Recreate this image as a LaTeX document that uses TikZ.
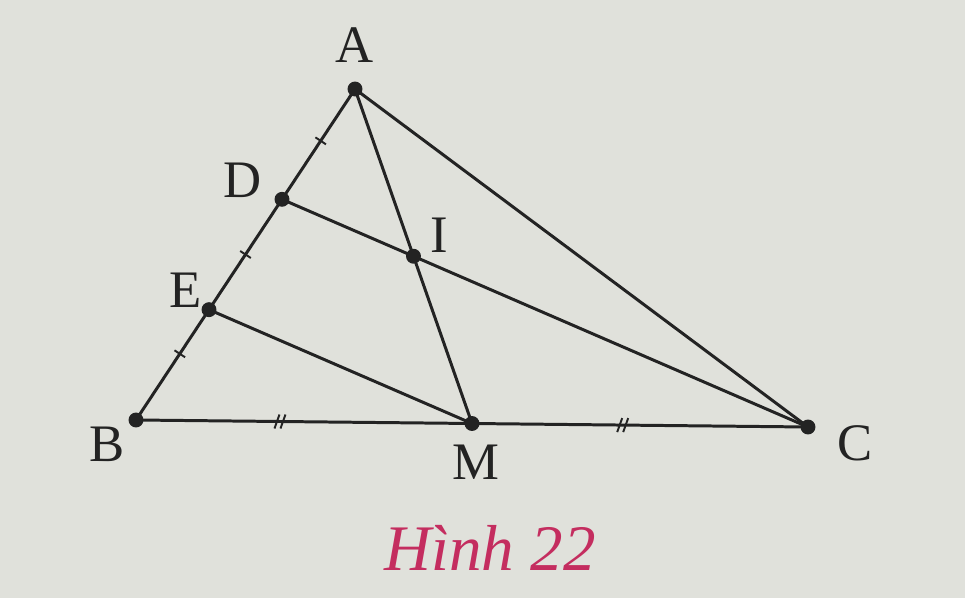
\documentclass[tikz,border=0pt]{standalone}
\usepackage{fontspec}
\setmainfont{Liberation Serif}
\usetikzlibrary{calc}
\definecolor{paper}{RGB}{224,225,219}
\definecolor{ink}{RGB}{35,35,35}
\definecolor{capred}{RGB}{196,45,95}
\begin{document}
\begin{tikzpicture}[x=0.02cm,y=-0.02cm,
  seg/.style={draw=ink,line width=1.7pt,line cap=round},
  tick/.style={draw=ink,line width=1.1pt},
  pt/.style={circle,fill=ink,inner sep=0pt,minimum size=8.5pt},
  lbl/.style={text=ink,font=\fontsize{30}{30}\selectfont,inner sep=0pt}]
\fill[paper] (0,0) rectangle (965,598);
\useasboundingbox (0,0) rectangle (965,598);
% vertices
\coordinate (A) at (355,89);
\coordinate (B) at (136,420);
\coordinate (C) at (808,427);
\coordinate (M) at ($(B)!0.5!(C)$);
\coordinate (D) at ($(A)!1/3!(B)$);
\coordinate (E) at ($(A)!2/3!(B)$);
\coordinate (I) at (intersection of A--M and D--C);
% segments
\draw[seg] (A) -- (B) -- (C) -- cycle;
\draw[seg] (A) -- (M);
\draw[seg] (D) -- (C);
\draw[seg] (E) -- (M);
% single ticks on AB
\foreach \s/\e/\f in {A/D/0.47,D/E/0.5,E/B/0.4}{
  \coordinate (t) at ($(\s)!\f!(\e)$);
  \draw[tick] ($(t)!3.6pt!90:(\e)$) -- ($(t)!3.6pt!-90:(\e)$);
}
% double ticks on BM and MC
\coordinate (t1) at ($(B)!0.43!(M)$);
\coordinate (t2) at ($(M)!0.45!(C)$);
\foreach \t in {t1,t2}{
  \draw[tick] ($(\t)+(-6,7)$) -- ($(\t)+(-1,-7)$);
  \draw[tick] ($(\t)+(0,7)$) -- ($(\t)+(5,-7)$);
}
% points
\foreach \p in {A,B,C,D,E,I,M}{\node[pt] (p\p) at (\p) {};}
% labels
\node[lbl] (lA) at (355,45) {A};
\node[lbl] (lB) at (107,444) {B};
\node[lbl] (lC) at (855,443) {C};
\node[lbl] (lD) at (243,180) {D};
\node[lbl] (lE) at (186,290) {E};
\node[lbl] (lI) at (439,235) {I};
\node[lbl] (lM) at (476,462) {M};
\node[text=capred,font=\fontsize{37}{37}\selectfont\itshape,inner sep=0pt] (cap) at (490,548) {Hình 22};
\end{tikzpicture}
\end{document}
